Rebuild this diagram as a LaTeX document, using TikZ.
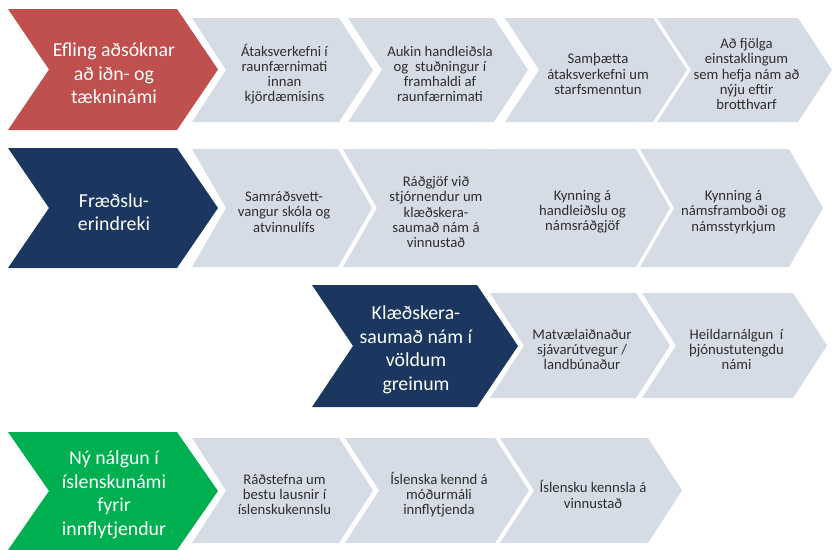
\documentclass[tikz,border=0pt]{standalone}
\usepackage{fontspec}
\setmainfont{Carlito}
\definecolor{cred}{HTML}{C0504D}
\definecolor{cnavy}{HTML}{1B3760}
\definecolor{cgreen}{HTML}{00B050}
\definecolor{clight}{HTML}{D6DCE6}
\definecolor{ctext}{HTML}{2E2E2E}
\newcommand{\chevshape}[6]{% left, tip, top, bottom, depth, fill
  \fill[#6] (#1,#3) -- ({#2-#5},#3) -- (#2,{(#3+#4)/2}) -- ({#2-#5},#4) -- (#1,#4) -- ({#1+#5},{(#3+#4)/2}) -- cycle;}
\newcommand{\lightbox}[6]{% name, left, tip, top, bottom, text
  \chevshape{#2}{#3}{#4}{#5}{34}{clight}
  \node[lighttext] (#1) at ({(#2+#3)/2+2},{(#4+#5)/2+4}) {#6};}
\newcommand{\mainbox}[7]{% name, left, tip, top, bottom, fill, text
  \chevshape{#2}{#3}{#4}{#5}{41}{#6}
  \node[maintext] (#1) at ({(#2+#3)/2+1},{(#4+#5)/2+4}) {#7};}
\begin{document}
\begin{tikzpicture}[x=1pt,y=-1pt,
  lighttext/.style={align=center,text=ctext,inner sep=0pt,font=\fontsize{14.7}{15.2}\selectfont},
  maintext/.style={align=center,text=white,inner sep=0pt,font=\fontsize{19.8}{23.5}\selectfont}]
\useasboundingbox (0,0) rectangle (832,549);
% Row 1
\mainbox{m1}{8}{218}{9}{130}{cred}{Efling aðsóknar\\að iðn- og\\tækninámi}
\lightbox{a1}{192}{373}{18}{122}{Átaksverkefni í\\raunfærnimati\\innan\\kjördæmisins}
\lightbox{a2}{348}{528}{18}{122}{Aukin handleiðsla\\og\ \ stuðningur í\\framhaldi af\\raunfærnimati}
\lightbox{a3}{505}{687}{18}{122}{Samþætta\\átaksverkefni um\\starfsmenntun}
\lightbox{a4}{657}{832}{18}{122}{Að fjölga\\einstaklingum\\sem hefja nám að\\nýju eftir\\brotthvarf}
% Row 2
\mainbox{m2}{8}{218}{148}{268}{cnavy}{Fræðslu-\\erindreki}
\lightbox{b1}{192}{372}{149}{267}{Samráðsvett-\\vangur skóla og\\atvinnulífs}
\lightbox{b2}{343}{525}{149}{267}{Ráðgjöf við\\stjórnendur um\\klæðskera-\\saumað nám á\\vinnustað}
\lightbox{b3}{491}{670}{149}{267}{Kynning á\\handleiðslu og\\námsráðgjöf}
\lightbox{b4}{640}{823}{149}{267}{Kynning á\\námsframboði og\\námsstyrkjum}
% Row 3
\mainbox{m3}{312}{518}{285}{407}{cnavy}{Klæðskera-\\saumað nám í\\völdum\\greinum}
\lightbox{c1}{490}{670}{293}{398}{Matvælaiðnaður\\sjávarútvegur /\\landbúnaður}
\lightbox{c2}{642}{827}{293}{398}{Heildarnálgun\ \ í\\þjónustutengdu\\námi}
% Row 4
\mainbox{m4}{8}{218}{432}{550}{cgreen}{Ný nálgun í\\íslenskunámi\\fyrir\\innflytjendur}
\lightbox{d1}{192}{373}{438}{543}{Ráðstefna um\\bestu lausnir í\\íslenskukennslu}
\lightbox{d2}{345}{529}{438}{543}{Íslenska kennd á\\móðurmáli\\innflytjenda}
\lightbox{d3}{500}{682}{438}{543}{Íslensku kennsla á\\vinnustað}
\end{tikzpicture}
\end{document}
